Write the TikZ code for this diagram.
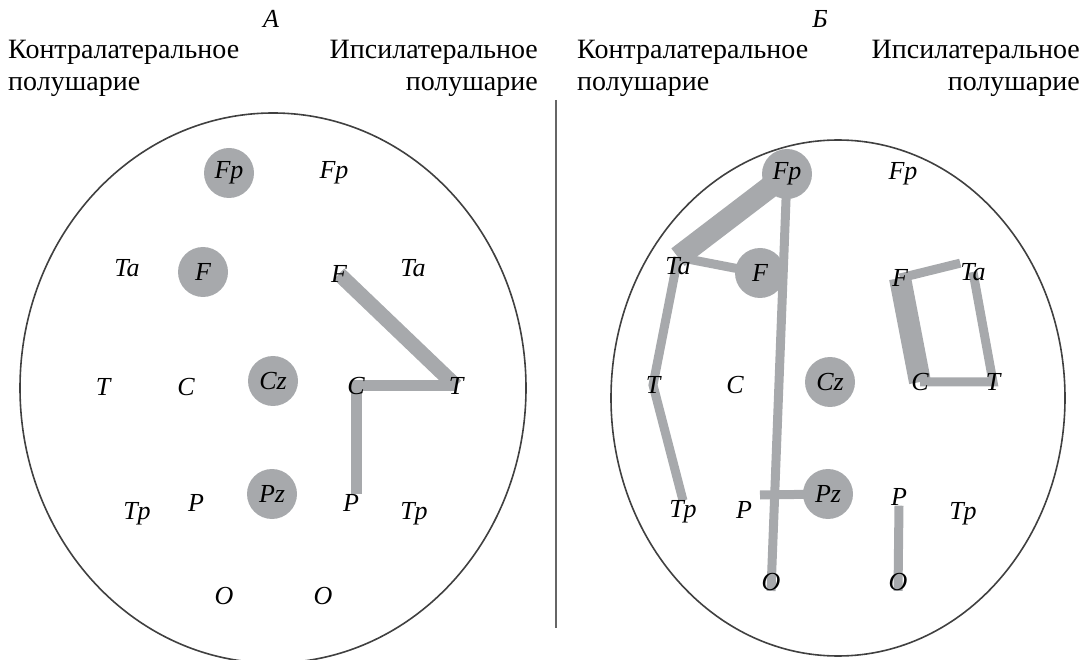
\documentclass[tikz,border=0pt]{standalone}
\usepackage{fontspec}
\setmainfont{Liberation Serif}
\usetikzlibrary{positioning,calc,backgrounds}
\definecolor{elgray}{RGB}{167,169,172}
\definecolor{headgray}{RGB}{64,64,64}

\begin{document}
\begin{tikzpicture}[x=1pt, y=-1pt,
    lbl/.style={font=\fontsize{26}{30}\selectfont\itshape, inner sep=0pt},
    hub/.style={circle, fill=elgray, minimum size=50pt, inner sep=0pt,
        font=\fontsize{26}{30}\selectfont\itshape},
    side/.style={font=\fontsize{28}{32}\selectfont, inner sep=0pt},
    link/.style={elgray, line width=9pt},
    strong/.style={elgray, line width=15pt},
    heavy/.style={elgray, line width=22pt}
]
    \useasboundingbox (0,0) rectangle (1085,660);

    % headings
    \node[lbl, anchor=base] (ta) at (271,28) {А};
    \node[lbl, anchor=base] (tb) at (820,28) {Б};
    \node[side, anchor=base west] (ac1) at (8,59) {Контралатеральное};
    \node[side, anchor=base west] (ac2) at (8,91) {полушарие};
    \node[side, anchor=base east] (ai1) at (538,59) {Ипсилатеральное};
    \node[side, anchor=base east] (ai2) at (538,91) {полушарие};
    \node[side, anchor=base west] (bc1) at (577,59) {Контралатеральное};
    \node[side, anchor=base west] (bc2) at (577,91) {полушарие};
    \node[side, anchor=base east] (bi1) at (1080,59) {Ипсилатеральное};
    \node[side, anchor=base east] (bi2) at (1080,91) {полушарие};

    % heads and divider
    \draw[headgray, line width=1.6pt] (273,388) ellipse [x radius=253, y radius=275];
    \draw[headgray, line width=1.6pt] (838,398) ellipse [x radius=227, y radius=258];
    \coordinate (dtop) at (556,100);
    \coordinate (dbot) at (556,628);
    \draw[headgray!80, line width=1.6pt] (dtop) -- (dbot);

    % panel A
    \node[hub] (aFpc) at (229,173) {Fp};
    \node[lbl] (aFpi) at (334,173) {Fp};
    \node[lbl] (aTac) at (127,268) {Ta};
    \node[hub] (aFc) at (203,272) {F};
    \node[lbl] (aFi) at (339,274) {F};
    \node[lbl] (aTai) at (413,268) {Ta};
    \node[lbl] (aTc) at (103,387) {T};
    \node[lbl] (aCc) at (186,387) {C};
    \node[hub] (aCz) at (273,381) {Cz};
    \node[lbl] (aCi) at (356,386) {C};
    \node[lbl] (aTi) at (456,386) {T};
    \node[lbl] (aTpc) at (137,514) {Tp};
    \node[lbl] (aPc) at (196,503) {P};
    \node[hub] (aPz) at (272,494) {Pz};
    \node[lbl] (aPi) at (351,503) {P};
    \node[lbl] (aTpi) at (414,514) {Tp};
    \node[lbl] (aOc) at (224,596) {O};
    \node[lbl] (aOi) at (323,596) {O};

    % panel B
    \node[hub] (bFpc) at (787,174) {Fp};
    \node[lbl] (bFpi) at (903,174) {Fp};
    \node[lbl] (bTac) at (678,266) {Ta};
    \node[hub] (bFc) at (760,273) {F};
    \node[lbl] (bFi) at (900,278) {F};
    \node[lbl] (bTai) at (973,272) {Ta};
    \node[lbl] (bTc) at (653,385) {T};
    \node[lbl] (bCc) at (735,385) {C};
    \node[hub] (bCz) at (830,382) {Cz};
    \node[lbl] (bCi) at (920,382) {C};
    \node[lbl] (bTi) at (993,382) {T};
    \node[lbl] (bTpc) at (683,512) {Tp};
    \node[lbl] (bPc) at (744,510) {P};
    \node[hub] (bPz) at (828,494) {Pz};
    \node[lbl] (bPi) at (899,497) {P};
    \node[lbl] (bTpi) at (963,514) {Tp};
    \node[lbl] (bOc) at (771,582) {O};
    \node[lbl] (bOi) at (898,582) {O};
    \coordinate (bPjoin) at (760,495);

    % connections
    \begin{scope}[on background layer]
        \draw[strong] (aFi.center) -- (aTi.center);
        \draw[link, line width=11pt] (aTi.center) -- (aCi.center) -- (aCi.center |- aPi.north);

        \draw[heavy] (bFpc.center) -- (bTac.north);
        \draw[link] (bTac.north) -- (bFc.center);
        \draw[link] (bTac.north) -- (bTc.center) -- (bTpc.north);
        \draw[link] (bFpc.center) -- (bOc.south);
        \draw[link] (bPjoin) -- (bPz.center);
        \draw[link] (bPi.south) -- (bOi.south);
        \draw[heavy] (bFi.center) -- (bCi.center);
        \draw[link] (bFi.center) -- (bTai.north west);
        \draw[link] (bTai.center) -- (bTi.center) -- (bCi.center);
    \end{scope}
\end{tikzpicture}
\end{document}
